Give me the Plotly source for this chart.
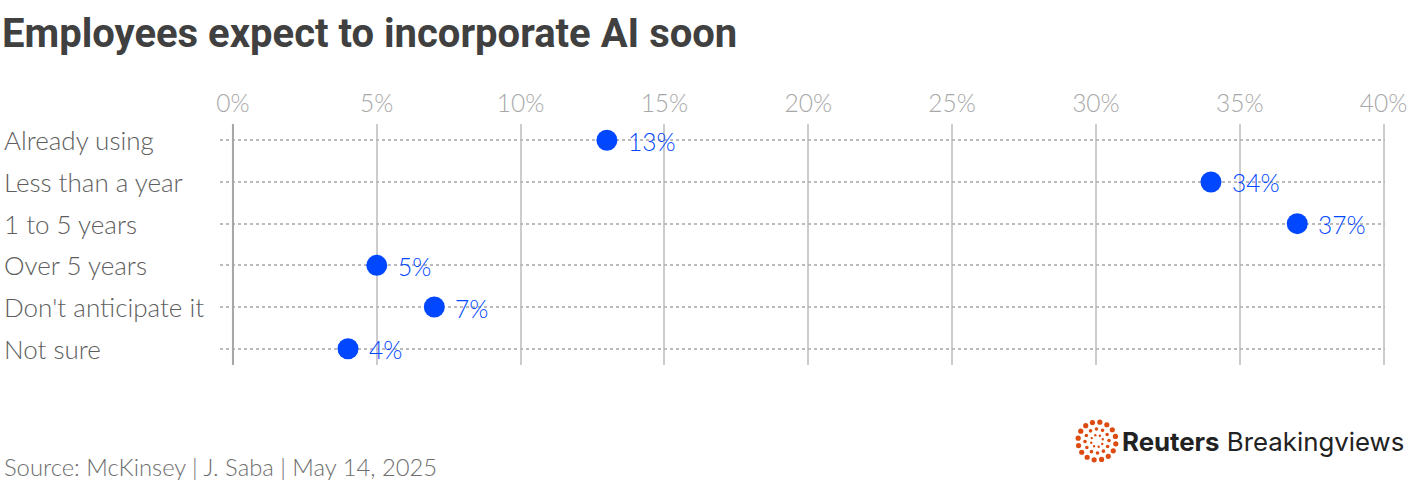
import math
import plotly.graph_objects as go

categories = ["Already using", "Less than a year", "1 to 5 years",
              "Over 5 years", "Don't anticipate it", "Not sure"]
values = [13, 34, 37, 5, 7, 4]
tick_vals = [0, 5, 10, 15, 20, 25, 30, 35, 40]
tick_text = ["0%", "5%", "10%", "15%", "20%", "25%", "30%", "35%", "40%"]

BLUE = "#0047ff"
FONT = "Lato"
LIGHT = 300

W, H = 1420, 484
L, R, T, B = 220, 35, 124, 119
PW, PH = W - L - R, H - T - B


def px_x(x):
    return (x - L) / PW


def px_y(y):
    return (H - B - y) / PH


fig = go.Figure()
fig.add_trace(go.Scatter(
    x=values, y=categories,
    mode="markers",
    marker=dict(size=21, color=BLUE),
    cliponaxis=False,
    hoverinfo="skip",
))

# value labels to the right of each dot
for c, v in zip(categories, values):
    fig.add_annotation(
        x=v, y=c, text=f"{v}%", showarrow=False,
        xanchor="left", xshift=19, yshift=-1,
        font=dict(size=24.5, color=BLUE, family=FONT, weight=LIGHT),
    )

# category labels, left aligned at the page edge
for c in categories:
    fig.add_annotation(
        x=px_x(2), xref="paper", y=c, yref="y",
        text=c, showarrow=False, xanchor="left",
        font=dict(size=26, color="#5e5e5e", family=FONT, weight=LIGHT),
    )

# darker zero line
fig.add_shape(type="line", x0=0, x1=0, y0=0, y1=1, xref="x", yref="paper",
              line=dict(color="#a6a6a6", width=2))

# title
fig.add_annotation(
    x=px_x(0), xref="paper", y=px_y(33), yref="paper",
    text="<b>Employees expect to incorporate AI soon</b>",
    showarrow=False, xanchor="left", yanchor="middle",
    font=dict(size=40, color="#404040", family="Roboto"),
)

fig.update_layout(
    width=W, height=H,
    margin=dict(l=L, r=R, t=T, b=B),
    paper_bgcolor="white", plot_bgcolor="white",
    showlegend=False,
    font=dict(family=FONT),
)

fig.update_xaxes(
    side="top", range=[-0.45, 40.05],
    tickvals=tick_vals, ticktext=tick_text,
    tickfont=dict(size=24.5, color="#a8a8a8", family=FONT, weight=LIGHT),
    showgrid=True, gridcolor="#cccccc", gridwidth=2,
    zeroline=False, showline=False, ticks="", ticklabelstandoff=6,
    fixedrange=True,
)
fig.update_yaxes(
    range=[5.39, -0.39], showticklabels=False,
    showgrid=True, gridcolor="#bbbbbb", gridwidth=2, griddash="dot",
    zeroline=False, showline=False, ticks="",
    fixedrange=True,
)

# source line
fig.add_annotation(
    x=px_x(2), xref="paper", y=px_y(467), yref="paper",
    text="Source: McKinsey | J. Saba | May 14, 2025",
    showarrow=False, xanchor="left", yanchor="middle",
    font=dict(size=23.8, color="#6e6e6e", family=FONT, weight=LIGHT),
)

# Reuters Breakingviews logo: ring of orange dots plus wordmark
cx, cy = 1097, 441
for r, n, s in [(19, 16, 2.6), (12, 12, 1.8), (6, 8, 1.2)]:
    for i in range(n):
        ang = 2 * math.pi * i / n + r
        dx = cx + r * math.cos(ang)
        dy = cy + r * math.sin(ang)
        fig.add_shape(
            type="circle", xref="paper", yref="paper",
            x0=px_x(dx - s), x1=px_x(dx + s),
            y0=px_y(dy + s), y1=px_y(dy - s),
            fillcolor="#dd4b10", line=dict(width=0), layer="above",
        )
fig.add_annotation(
    x=px_x(1120), xref="paper", y=px_y(441), yref="paper",
    text="<b>Reuters</b> Breakingviews", showarrow=False,
    xanchor="left", yanchor="middle",
    font=dict(size=25.8, color="#222222", family="Inter"),
)

# drop the default 8px page margin so the figure sits at the window corner
fig.write_html("out.html", config={"displayModeBar": False},
               post_script="document.body.style.margin='0';")
